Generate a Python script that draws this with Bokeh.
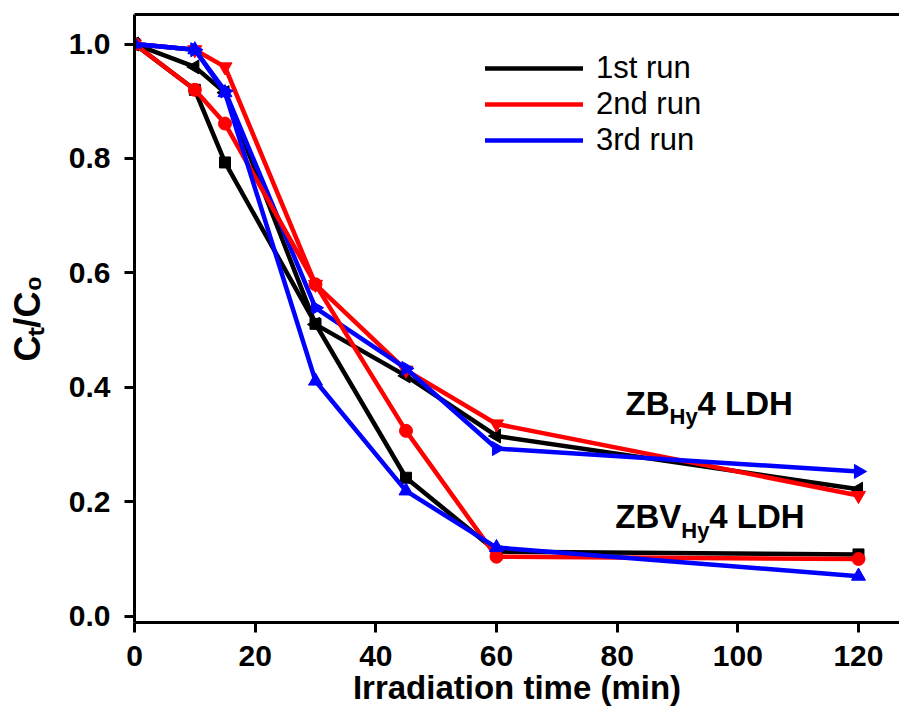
import math
from bokeh.plotting import figure
from bokeh.models import Range1d, Label, Legend, LegendItem, LinearAxis, FixedTicker, PrintfTickFormatter
from bokeh.embed import file_html
from bokeh.resources import INLINE

# ---- data ----
time_min = [0, 10, 15, 30, 45, 60, 120]

# ZB_Hy4 LDH
zb_run1 = [1.0, 0.96, 0.915, 0.51, 0.42, 0.315, 0.222]
zb_run2 = [1.0, 0.99, 0.96, 0.58, 0.43, 0.336, 0.211]
zb_run3 = [1.0, 0.99, 0.918, 0.539, 0.433, 0.293, 0.253]

# ZBV_Hy4 LDH
zbv_run1 = [1.0, 0.92, 0.793, 0.511, 0.242, 0.113, 0.108]
zbv_run2 = [1.0, 0.92, 0.861, 0.58, 0.324, 0.104, 0.100]
zbv_run3 = [1.0, 0.99, 0.915, 0.411, 0.219, 0.120, 0.070]

run_labels = ["1st run", "2nd run", "3rd run"]
run_colors = ["#000000", "#ff0000", "#0000ff"]
x_ticks = [0, 20, 40, 60, 80, 100, 120]
y_ticks = [0.0, 0.2, 0.4, 0.6, 0.8, 1.0]

FONT = "Liberation Sans"

p = figure(width=899, height=711, output_backend="svg", toolbar_location=None,
           x_range=Range1d(0, 126.8), y_range=Range1d(-0.011, 1.0516),
           min_border_left=134, min_border_right=0, min_border_top=14, min_border_bottom=89,
           background_fill_color="white", border_fill_color="white")
p.outline_line_color = None
p.xgrid.visible = False
p.ygrid.visible = False

for ax in (p.xaxis[0], p.yaxis[0]):
    ax.axis_line_width = 3
    ax.major_tick_line_width = 3
    ax.major_tick_out = 10
    ax.major_tick_in = 0
    ax.minor_tick_out = 0
    ax.minor_tick_in = 0
    ax.major_label_text_font = FONT
    ax.major_label_text_font_style = "bold"
    ax.major_label_text_font_size = "30px"
    ax.major_label_text_color = "black"
    ax.axis_label_text_font = FONT
    ax.axis_label_text_font_style = "bold"
    ax.axis_label_text_color = "black"
p.xaxis.ticker = FixedTicker(ticks=x_ticks)
p.yaxis.ticker = FixedTicker(ticks=y_ticks)
p.yaxis.formatter = PrintfTickFormatter(format="%.1f")
p.xaxis.major_label_standoff = 13
p.yaxis.major_label_standoff = 14

p.xaxis.axis_label = "Irradiation time (min)"
p.xaxis.axis_label_text_font_size = "33px"
p.xaxis.axis_label_standoff = 0
p.yaxis.axis_label = "C\u209c/C\u2080"
p.yaxis.axis_label_text_font_size = "36px"
p.yaxis.axis_label_standoff = 18

top = LinearAxis(ticker=FixedTicker(ticks=[]), axis_line_width=3,
                 major_label_text_font_size="0px", major_tick_out=0, major_tick_in=0,
                 minor_tick_out=0, minor_tick_in=0)
p.add_layout(top, "above")

# ZB series (triangles left / down / right)
zb_sets = [(zb_run1, "triangle", math.pi / 2, 14),
           (zb_run2, "inverted_triangle", 0, 14),
           (zb_run3, "triangle", -math.pi / 2, 14)]
zbv_sets = [(zbv_run1, "square", 0, 11),
            (zbv_run2, "circle", 0, 13),
            (zbv_run3, "triangle", 0, 14)]

legend_renderers = []
for sets in (zb_sets, zbv_sets):
    for (vals, marker, ang, sz), col in zip(sets, run_colors):
        r = p.line(time_min, vals, line_color=col, line_width=4.5, line_join="round",
                   line_cap="round")
        p.scatter(time_min, vals, marker=marker, angle=ang, size=sz,
                  fill_color=col, line_color=col)
        if sets is zbv_sets:
            legend_renderers.append(r)

leg_items = [LegendItem(label=lab_, renderers=[rr])
             for lab_, rr in zip(run_labels, legend_renderers)]

legend = Legend(items=leg_items, location=(351, 464), orientation="vertical",
                glyph_width=98, glyph_height=30, label_height=30, spacing=0,
                padding=0, margin=0, label_standoff=13,
                label_text_font=FONT, label_text_font_size="31px",
                label_text_color="black",
                background_fill_alpha=0, border_line_alpha=0)
p.add_layout(legend, "center")

# ---- annotations ----
def lab(x, y, text, size, xo=0, yo=0, style="bold", align="left"):
    p.add_layout(Label(x=x, y=y, x_offset=xo, y_offset=yo, text=text,
                       text_font=FONT, text_font_size=size, text_font_style=style,
                       text_color="black", text_align=align,
                       text_baseline="alphabetic"))

# ZB_Hy4 LDH label
lab(81.4, 0.3715, "ZB", "33px")
lab(81.4, 0.3715, "Hy", "22px", xo=44, yo=-13)
lab(81.4, 0.3715, "4 LDH", "33px", xo=72)

# ZBV_Hy4 LDH label
lab(79.7, 0.174, "ZBV", "33px")
lab(79.7, 0.174, "Hy", "22px", xo=66, yo=-14)
lab(79.7, 0.174, "4 LDH", "33px", xo=94)

open("out.html", "w").write(file_html(p, INLINE))
